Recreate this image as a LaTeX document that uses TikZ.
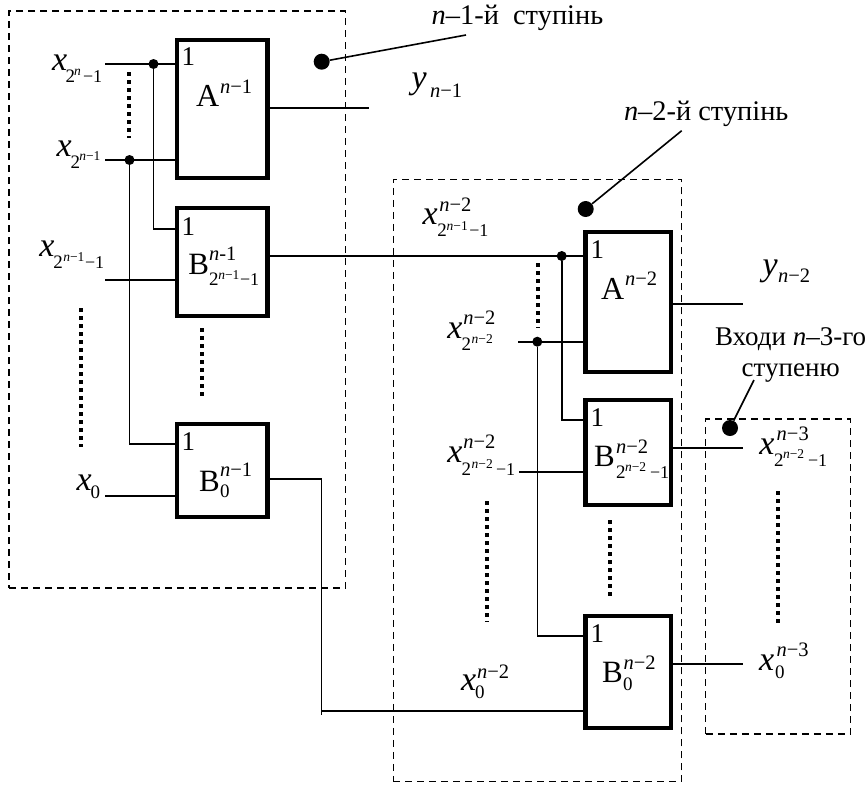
\documentclass[tikz,border=0pt]{standalone}
\usepackage{fontspec}
\setmainfont{Liberation Serif}
\newcommand\Pt[4]{\rlap{\kern #1pt\raisebox{#2pt}{\fontsize{#3}{#3}\selectfont #4}}}
\newcommand\LB[2]{\makebox[#1pt][l]{#2}}
\newcommand\Xx{\Pt{0}{0}{34}{\textit{x}}}
\newcommand\Sup[3]{\Pt{#1}{#2}{20.5}{\textit{n}−#3}}
\newcommand\Two[2]{\Pt{#1}{#2}{19}{2}}
\newcommand\Nn[3]{\Pt{#1}{#2}{13.5}{\textit{n}−#3}}
\newcommand\Mo[2]{\Pt{#1}{#2}{18}{−1}}
\newcommand\Zr[2]{\Pt{#1}{#2}{19}{0}}
\newcommand\One{\fontsize{27}{27}\selectfont 1}
\tikzset{
  x=1pt,y=-1pt,
  gate/.style={draw,line width=4.4pt,inner sep=0pt,minimum width=#1,fill=white},
  frame/.style={draw,line width=1.2pt,dash pattern=on 7pt off 5pt,inner sep=0pt},
  wire/.style={line width=1.6pt},
  joint/.style={circle,fill=black,inner sep=0pt,minimum size=10pt},
  mark dot/.style={circle,fill=black,inner sep=0pt,minimum size=16pt},
  pts/.style={line width=4pt,dash pattern=on 4pt off 4pt},
  lab/.style={anchor=base west,inner sep=0pt,outer sep=0pt},
  txt/.style={anchor=base west,inner sep=0pt,outer sep=0pt,font=\fontsize{28.4}{28.4}\selectfont},
  txs/.style={anchor=base west,inner sep=0pt,outer sep=0pt,font=\fontsize{27}{27}\selectfont},
}
\newcommand\GateBox[5]{\node[gate=#4pt-#2pt,minimum height=#5pt-#3pt] (#1) at ({(#2+#4)/2},{(#3+#5)/2}) {};}
\begin{document}
\begin{tikzpicture}
\useasboundingbox (0,0) rectangle (867,785);
% frames
\node[frame,minimum width=336.5pt,minimum height=577pt] (F1) at (177.25,299.5) {};
\node[frame,minimum width=288.5pt,minimum height=602.5pt] (F2) at (537.5,480.5) {};
\node[frame,minimum width=144.5pt,minimum height=315pt] (F3) at (778,576.5) {};
% gates
\GateBox{A1}{177}{40}{267.5}{178}
\GateBox{B1}{177}{208}{267.5}{316}
\GateBox{C1}{177}{424}{267.5}{517}
\GateBox{A2}{585.5}{232}{671}{372}
\GateBox{B2}{585.5}{400}{671}{505}
\GateBox{C2}{585.5}{616}{671}{728}
% free ends
\coordinate (i1) at (105,64);
\coordinate (i2) at (105,160);
\coordinate (i3) at (105,280);
\coordinate (i4) at (105,496);
\coordinate (o1) at (369,107.7);
\coordinate (j3) at (518,341.7);
\coordinate (j4) at (519,472);
\coordinate (o2) at (743,304);
\coordinate (o3) at (743,448);
\coordinate (o4) at (743,663.7);
\coordinate (c1) at (153.5,228.7);
\coordinate (c2) at (129.5,444);
\coordinate (c3) at (561.7,420);
\coordinate (c4) at (537.3,635.7);
\coordinate (b1) at (267.5,256);
\coordinate (r1) at (321.3,479);
\coordinate (r2) at (321.3,711);
\coordinate (r3) at (321.3,715);
% joints
\node[joint] (d1) at (153.5,64) {};
\node[joint] (d2) at (129.5,160) {};
\node[joint] (d3) at (561.7,256) {};
\node[joint] (d4) at (537.3,341.7) {};
% wires
\draw[wire] (i1) -- (i1 -| A1.west);
\draw[wire] (i2) -- (i2 -| A1.west);
\draw[wire] (i3) -- (i3 -| B1.west);
\draw[wire] (i4) -- (i4 -| C1.west);
\draw[wire] (d1) |- (c1 -| B1.west);
\draw[wire] (d2) |- (c2 -| C1.west);
\draw[wire] (o1 -| A1.east) -- (o1);
\draw[wire] (b1 -| B1.east) -- (b1 -| A2.west);
\draw[wire] (d3) |- (c3 -| B2.west);
\draw[wire] (j3) -- (j3 -| A2.west);
\draw[wire] (d4) |- (c4 -| C2.west);
\draw[wire] (j4) -- (j4 -| B2.west);
\draw[wire] (o2 -| A2.east) -- (o2);
\draw[wire] (o3 -| B2.east) -- (o3);
\draw[wire] (o4 -| C2.east) -- (o4);
\draw[wire] (r1 -| C1.east) -- (r1) -- (r3);
\draw[wire] (r2) -- (r2 -| C2.west);
% ellipsis dots
\draw[pts] (129.3,72) -- (129.3,138);
\draw[pts] (81.3,308) -- (81.3,447);
\draw[pts] (201.7,328) -- (201.7,397);
\draw[pts] (537.7,263) -- (537.7,328);
\draw[pts] (487.3,501) -- (487.3,622);
\draw[pts] (610,520) -- (610,597);
\draw[pts] (777.6,491) -- (777.6,623);
% callouts
\node[mark dot] (m1) at (321.7,61.7) {};
\node[mark dot] (m2) at (585.7,209) {};
\node[mark dot] (m3) at (730,428) {};
\coordinate (e1) at (466,35);
\coordinate (e2) at (681.7,130.7);
\coordinate (e3) at (754,380);
\draw[wire] (m1) -- (e1);
\draw[wire] (m2) -- (e2);
\draw[wire] (m3) -- (e3);
% ones
\node[lab] (n1) at (181.5,65.7) {\One};
\node[lab] (n2) at (181.5,235) {\One};
\node[lab] (n3) at (181.5,450) {\One};
\node[lab] (n4) at (590.7,258.3) {\One};
\node[lab] (n5) at (590.7,426.7) {\One};
\node[lab] (n6) at (590.7,642) {\One};
% gate labels
\node[lab] (tA1) at (196,106.7) {\LB{50}{\Pt{0}{0}{32}{A}\Sup{24}{13.4}{1}}};
\node[lab] (tB1) at (188.3,274) {\LB{68}{\Pt{0}{0}{31}{B}\Pt{20.7}{14}{20.5}{\textit{n}-1}\Two{20.7}{-11.7}\Nn{30}{-5}{1}\Mo{51.7}{-11.7}}};
\node[lab] (tC1) at (199,491) {\LB{48}{\Pt{0}{0}{31}{B}\Sup{21}{14.3}{1}\Zr{21}{-6.7}}};
\node[lab] (tA2) at (601,299) {\LB{54}{\Pt{0}{0}{32}{A}\Sup{24}{14}{2}}};
\node[lab] (tB2) at (594,466.7) {\LB{73}{\Pt{0}{0}{31}{B}\Sup{22}{13.4}{2}\Two{22}{-11.3}\Nn{31}{-5}{2}\Mo{56}{-11.3}}};
\node[lab] (tC2) at (602,682.7) {\LB{51}{\Pt{0}{0}{31}{B}\Sup{21.6}{13.4}{2}\Zr{21}{-7.3}}};
% signal labels
\node[lab] (L1) at (52,70.7) {\LB{48}{\Xx\Two{13.7}{-12}\Pt{22}{-4.3}{13.5}{\textit{n}}\Mo{31}{-12}}};
\node[lab] (L2) at (56.7,156.7) {\LB{42}{\Xx\Two{14}{-11.3}\Nn{22.6}{-3.3}{1}}};
\node[lab] (L3) at (39.3,256.7) {\LB{62}{\Xx\Two{14}{-11.3}\Nn{24}{-4.5}{1}\Mo{45.7}{-11.3}}};
\node[lab] (L4) at (76.7,490.7) {\LB{24}{\Xx\Zr{14}{-7.5}}};
\node[lab] (Y1) at (411.7,88) {\LB{44}{\Pt{0}{0}{34}{\textit{y}}\Sup{18.3}{-9}{1}}};
\node[lab] (Y2) at (762.7,275) {\LB{46}{\Pt{0}{0}{34}{\textit{y}}\Sup{15.3}{-7.7}{2}}};
\node[lab] (X1) at (422.7,224.3) {\LB{63}{\Xx\Sup{16.6}{13.3}{2}\Two{14.6}{-12.4}\Nn{24}{-5.7}{1}\Mo{46.6}{-12.4}}};
\node[lab] (X2) at (447.3,338) {\LB{46}{\Xx\Sup{16}{14}{2}\Two{14.4}{-12.7}\Nn{24.4}{-5}{2}}};
\node[lab] (X3) at (447.3,462.7) {\LB{66}{\Xx\Sup{16}{14.4}{2}\Two{14.4}{-12.3}\Nn{24.4}{-5.3}{2}\Mo{48.7}{-12.3}}};
\node[lab] (X4) at (759.3,454) {\LB{66}{\Xx\Pt{17.4}{14}{20.5}{\textit{n}−3}\Two{14.7}{-12}\Nn{23.7}{-4.7}{2}\Mo{48.7}{-12}}};
\node[lab] (X5) at (759,670) {\LB{46}{\Xx\Pt{17.5}{13.3}{20.5}{\textit{n}−3}\Zr{16}{-8}}};
\node[lab] (X6) at (461,690.7) {\LB{46}{\Xx\Sup{16}{12.7}{2}\Zr{14}{-7.3}}};
% captions
\node[txt] (T1) at (431.7,24) {\textit{n}–1-й\hspace{0.5em}ступінь};
\node[txt] (T2) at (624,120.7) {\textit{n}–2-й ступінь};
\node[txs] (T3) at (715,345) {Входи \textit{n}–3-го};
\node[txs] (T4) at (741.7,376.7) {ступеню};
\end{tikzpicture}
\end{document}
